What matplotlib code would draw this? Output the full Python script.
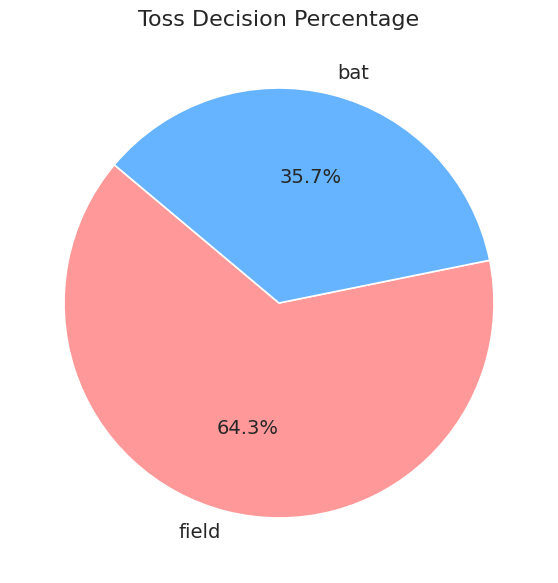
import matplotlib
matplotlib.use("Agg")
import matplotlib.pyplot as plt
import seaborn as sns

sns.set_theme(style="whitegrid")
plt.rcParams['font.family'] = ['DejaVu Sans']

labels = ["field", "bat"]
values = [64.3, 35.7]
colors = ["#ff9999", "#66b3ff"]

fig = plt.figure(figsize=(5.58, 5.83), dpi=100)
ax = fig.add_axes([21/558, 22/583, 516/558, 516/583])
ax.pie(values, labels=labels, colors=colors, autopct="%1.1f%%", startangle=140,
       wedgeprops=dict(edgecolor="white", linewidth=1.2),
       textprops=dict(fontsize=14, color="#262626"))
ax.set_xlim(-1.2, 1.2)
ax.set_ylim(-1.2, 1.2)
ax.set_title("Toss Decision Percentage", fontsize=16, color="#262626", pad=14)
fig.savefig("out.png", dpi=100)
